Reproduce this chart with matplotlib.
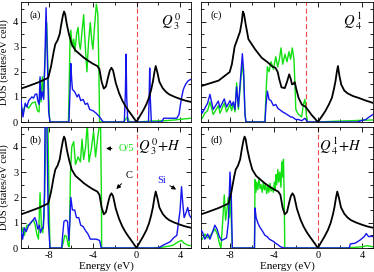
import matplotlib
matplotlib.use("Agg")
import matplotlib.pyplot as plt
from matplotlib.ticker import MultipleLocator, FixedLocator

plt.rcParams['font.family'] = ['Liberation Serif', 'DejaVu Serif']
plt.rcParams['mathtext.fontset'] = 'stix'

# ---------------- data ----------------
# total (C) DOS, panels a, b, d
e_black = [-10.6, -10, -9, -8.1, -7.85, -7.6, -7.45, -7.25, -7.05, -6.9, -6.75, -6.65, -6.55, -6.4, -6.2,
           -5.95, -5.6, -5.2, -4.8, -4.4, -4.0, -3.6, -3.4, -3.2, -3.0, -2.8, -2.6, -2.45, -2.3, -2.15,
           -1.9, -1.6, -1.3, -1.0, -0.7, -0.35, 0, 0.3, 0.6, 0.9, 1.15, 1.35, 1.5, 1.65, 1.76, 1.9, 2.1,
           2.4, 2.7, 3.0, 3.5, 4.0, 4.5, 5.0]
dos_black = [1.33, 1.42, 1.58, 1.76, 2.2, 2.8, 3.1, 3.25, 3.5, 3.9, 4.25, 4.4, 4.3, 3.9, 3.5,
             3.1, 2.85, 2.7, 2.55, 2.43, 2.32, 2.23, 2.1, 1.6, 1.33, 1.42, 1.8, 2.05, 2.16, 2.05,
             1.55, 1.15, 0.85, 0.62, 0.43, 0.22, 0.0, 0.23, 0.45, 0.7, 0.98, 1.3, 1.6, 2.0, 2.23, 2.0, 1.6,
             1.35, 1.2, 1.1, 1.0, 0.92, 0.85, 0.8]
# total DOS, panel c
e_black_c = [-10.6, -9.0, -8.0, -7.8, -7.55, -7.36, -7.06, -6.9, -6.8, -6.7, -6.55, -6.3, -6.0, -5.7,
             -5.1, -4.5, -4.1, -3.85, -3.65, -3.5, -3.3, -3.0, -2.8, -2.6, -2.45, -2.35, -2.22, -2.1,
             -1.95, -1.75, -1.45, -1.1, -0.6, 0, 0.35, 0.67, 1.0, 1.27, 1.45, 1.6, 1.72, 1.82, 1.95,
             2.12, 2.4, 2.7, 3.2, 3.7, 4.3, 5.0]
dos_black_c = [1.43, 1.65, 1.99, 2.3, 3.0, 3.23, 3.6, 4.0, 4.4, 4.3, 3.9, 3.3, 3.1, 2.9,
               2.56, 2.36, 2.2, 2.16, 2.0, 1.7, 1.38, 1.35, 1.6, 1.9, 1.7, 1.5, 1.52, 1.59,
               1.3, 0.96, 0.69, 0.6, 0.3, 0.0, 0.22, 0.43, 0.7, 0.96, 1.3, 1.63, 2.0, 2.23, 1.85,
               1.49, 1.25, 1.14, 1.03, 0.96, 0.86, 0.76]

# O/5 (green) and Si (blue) projected DOS
e_green_a = [-10.6, -10.42, -10.21, -9.9, -9.6, -9.3, -9.09, -8.94, -8.85, -8.76, -8.64, -8.52, -8.39, -8.24,
             -8.12, -8.0, -7.94,
             -6.25, -6.1, -6.03, -5.9, -5.76, -5.65, -5.5, -5.36, -5.25, -5.15, -5.0, -4.85, -4.7, -4.55,
             -4.4, -4.24, -4.1, -4.0, -3.85, -3.69, -3.55, -3.45, -3.39,
             -1.2, -1.0, -0.85, -0.7, -0.6,
             0.0, 0.8, 1.5, 2.6, 3.5, 4.3, 5.0]
dos_green_a = [0.6, 0.35, 0.7, 0.55, 0.75, 0.8, 0.45, 0.4, 1.7, 0.8, 1.8, 1.0, 2.5, 3.95,
               2.0, 0.3, 0.0,
               0.0, 3.2, 3.66, 3.0, 3.3, 2.8, 3.5, 3.77, 3.1, 2.9, 3.6, 4.27, 3.0, 2.0,
               3.2, 3.96, 3.2, 2.9, 3.8, 4.69, 4.3, 2.0, 0.0,
               0.0, 0.1, 0.2, 0.05, 0.0,
               0.0, 0.02, 0.04, 0.05, 0.08, 0.12, 0.15]
e_blue_a = [-10.6, -10.42, -10.21, -10.06, -9.9, -9.6, -9.45, -9.3, -9.15, -9.06, -8.94, -8.85, -8.76, -8.64,
            -8.52, -8.39, -8.3, -8.18, -8.06, -7.94,
            -6.2, -6.08, -6.03, -5.95, -5.88, -5.67, -5.45, -5.3, -5.12, -4.9, -4.7, -4.5, -4.3, -4.0,
            -3.7, -3.39, -3.15, -3.0,
            -1.12, -1.02, -0.96, -0.9, -0.8,
            1.1, 1.17, 1.21, 1.26, 1.36,
            2.3, 2.5, 3.0, 3.7, 3.9, 4.0, 4.15, 4.3, 4.5, 4.76, 5.0]
dos_blue_a = [0.85, 0.2, 0.75, 0.6, 0.85, 1.0, 0.95, 1.1, 1.12, 0.85, 0.7, 1.8, 0.9, 1.2,
              0.9, 2.8, 4.55, 2.5, 0.4, 0.0,
              0.0, 1.5, 2.33, 1.7, 1.3, 1.2, 1.0, 1.1, 0.85, 0.9, 0.7, 0.75, 0.5, 0.45,
              0.35, 0.2, 0.05, 0.0,
              0.0, 1.2, 2.7, 1.0, 0.0,
              0.0, 1.2, 2.15, 1.0, 0.0,
              0.0, 0.15, 0.15, 0.15, 0.3, 0.6, 1.0, 1.3, 1.5, 1.65, 1.7]

e_green_b = [-10.6, -10.42, -10.3, -10.06, -9.82, -9.6, -9.45, -9.3, -9.15, -9.0, -8.85, -8.73, -8.6, -8.48,
             -8.36, -8.3, -8.15, -8.03, -7.94,
             -6.85, -6.73, -6.58, -6.42, -6.27, -6.18, -6.06, -5.94, -5.76, -5.6, -5.36, -5.15, -5.0,
             -4.85, -4.67, -4.52, -4.36, -4.15, -3.94, -3.76, -3.55, -3.39, -3.3, -3.22, -3.2,
             1.5, 2.4, 3.3, 3.85, 4.13, 4.33, 4.76, 5.0]
dos_green_b = [0.45, 0.8, 0.5, 0.9, 0.9, 1.05, 1.1, 0.9, 0.55, 0.35, 2.18, 0.9, 0.6, 1.3,
               3.5, 5.5, 5.5, 2.0, 0.0,
               0.0, 0.2, 0.5, 0.45, 0.1, 0.05, 3.0, 4.0, 4.2, 3.3, 3.6, 3.4, 4.3,
               3.5, 4.0, 4.9, 3.4, 3.9, 4.6, 3.6, 4.4, 4.9, 4.9, 2.0, 0.0,
               0.0, 0.03, 0.1, 0.25, 0.3, 0.2, 0.1, 0.1]
e_blue_b = [-10.6, -10.45, -10.3, -10.12, -9.9, -9.7, -9.5, -9.33, -9.2, -9.06, -8.91, -8.82, -8.7, -8.55,
            -8.45, -8.39, -8.24, -8.15, -8.09, -7.94,
            -6.87, -6.78, -6.66, -6.48, -6.33, -6.21, -6.12, -6.03, -5.88, -5.67, -5.51, -5.3, -5.12,
            -4.9, -4.7, -4.45, -4.24, -4.0, -3.7, -3.39, -3.24,
            2.0, 2.4, 3.1, 3.4, 3.7, 3.85, 4.0, 4.13, 4.24, 4.37, 4.55, 4.7, 4.85, 5.0]
dos_blue_b = [0.7, 0.35, 0.8, 0.65, 0.9, 1.0, 1.1, 1.2, 1.05, 0.75, 0.9, 0.6, 0.75, 0.8,
              2.0, 5.5, 5.5, 2.5, 1.0, 0.0,
              0.0, 0.5, 1.05, 1.1, 1.05, 0.3, 1.0, 2.0, 1.5, 1.5, 1.2, 1.2, 0.9,
              0.85, 0.7, 0.55, 0.35, 0.35, 0.35, 0.3, 0.0,
              0.0, 0.1, 0.25, 0.4, 0.5, 1.0, 1.5, 2.42, 1.8, 1.2, 1.4, 1.6, 1.3, 1.2]

e_green_c = [-10.6, -10.49, -10.25, -10.0, -9.79, -9.49, -9.03, -8.88, -8.49, -8.28, -7.97, -7.82, -7.67,
             -7.52, -7.37, -7.21, -6.97, -6.85, -6.73, -6.61, -6.52,
             -4.8, -4.7, -4.58, -4.43, -4.25, -4.03, -3.82, -3.64, -3.49, -3.34, -3.19, -2.98, -2.8,
             -2.62, -2.47, -2.32, -2.17, -2.08, -2.0, -1.77, -1.47, -1.32, -1.17, -1.05, -0.93,
             0.0, 1.5, 3.0, 4.0, 5.0]
dos_green_c = [0.1, 0.15, 0.35, 0.45, 0.8, 0.3, 0.65, 0.35, 0.75, 0.4, 0.7, 0.45, 0.75,
               0.4, 1.56, 0.5, 1.8, 2.3, 1.8, 0.3, 0.0,
               0.0, 1.2, 2.2, 2.0, 2.4, 2.1, 2.6, 2.2, 2.5, 2.95, 2.3, 2.7, 2.4,
               2.8, 2.5, 2.95, 2.5, 1.5, 0.5, 0.3, 0.2, 0.7, 0.9, 0.3, 0.0,
               0.0, 0.03, 0.05, 0.07, 0.08]
e_blue_c = [-10.6, -10.49, -10.25, -10.0, -9.79, -9.49, -9.03, -8.88, -8.49, -8.28, -7.97, -7.82, -7.67,
            -7.52, -7.37, -7.21, -6.97, -6.85, -6.73, -6.61, -6.52,
            -4.8, -4.7, -4.58, -4.43, -4.25, -4.03, -3.82, -3.64, -3.49, -3.34, -3.19, -2.98, -2.8,
            -2.62, -2.47, -2.32, -2.17, -2.0, -1.77, -1.47, -1.17, -0.93,
            3.6, 3.9, 4.35, 4.65, 5.0]
dos_blue_c = [0.5, 0.35, 0.55, 0.75, 1.1, 0.5, 0.83, 0.56, 0.92, 0.6, 0.85, 0.65, 0.8,
              0.5, 1.4, 0.6, 2.0, 2.72, 2.0, 0.3, 0.0,
              0.0, 0.7, 1.23, 0.9, 0.85, 0.65, 0.7, 0.55, 0.5, 0.45, 0.4, 0.35, 0.3,
              0.25, 0.2, 0.2, 0.15, 0.1, 0.1, 0.05, 0.15, 0.0,
              0.0, 0.05, 0.1, 0.2, 0.3]

e_green_d = [-10.6, -10.49, -10.25, -10.0, -9.64, -9.34, -9.12, -8.94, -8.79, -8.64, -8.49, -8.37, -8.25,
             -8.12, -8.03, -7.94, -7.85, -7.76,
             -5.75, -5.7, -5.62, -5.55, -5.45, -5.35, -5.24, -5.15, -5.05, -4.94, -4.85, -4.75, -4.64,
             -4.55, -4.45, -4.34, -4.25, -4.15, -4.03, -3.95, -3.88, -3.8, -3.73, -3.63, -3.55, -3.45,
             -3.35, -3.27, -3.2, -3.12, -3.06, -3.0,
             2.5, 3.5, 4.0, 4.45, 5.0]
dos_green_d = [0.3, 0.35, 0.55, 0.4, 0.55, 0.75, 0.55, 0.2, 0.0, 1.0, 2.1, 1.1, 1.5,
               2.0, 1.2, 2.3, 1.0, 0.0,
               0.0, 2.7, 2.2, 2.6, 2.3, 2.75, 2.35, 2.5, 2.2, 2.6, 2.3, 2.5, 2.15,
               2.45, 2.2, 2.55, 2.25, 2.4, 2.2, 2.6, 2.3, 2.9, 2.5, 3.1, 2.6, 3.0,
               2.4, 3.4, 2.8, 3.5, 2.2, 0.0,
               0.0, 0.03, 0.05, 0.09, 0.05]
e_blue_d = [-10.6, -10.49, -10.37, -10.25, -10.0, -9.79, -9.58, -9.34, -9.15, -8.94, -8.73, -8.49, -8.28,
            -8.12, -7.97, -7.85, -7.76,
            -5.75, -5.7, -5.6, -5.45, -5.3, -5.15, -5.0, -4.8, -4.6, -4.4, -4.2, -4.0, -3.8, -3.6,
            -3.4, -3.2, -3.0,
            2.85, 2.94, 3.39, 3.85, 4.2, 4.39, 4.6, 4.9, 5.0]
dos_blue_d = [0.7, 0.65, 0.5, 0.35, 0.55, 0.35, 0.6, 0.9, 0.75, 0.45, 0.3, 0.35, 0.4,
              1.0, 3.0, 2.0, 0.0,
              0.0, 1.58, 1.2, 1.0, 0.85, 0.75, 0.65, 0.5, 0.45, 0.35, 0.3, 0.25, 0.18, 0.12,
              0.05, 0.02, 0.0,
              0.0, 0.16, 0.19, 0.32, 0.45, 0.57, 0.45, 0.46, 0.45]

fermi_levels = [0.0, 0.0, -1.1, 0.0]           # a, b, c, d
panel_letters = ['(a)', '(b)', '(c)', '(d)']
panel_titles = [r'$Q^{\,\mathit{0}}_{\;\mathit{3}}$', r'$Q^{\,\mathit{0}}_{\;\mathit{3}}\!+\!H$',
                r'$Q^{\,\mathit{1}}_{\;\mathit{4}}$', r'$Q^{\,\mathit{1}}_{\;\mathit{4}}\!+\!H$']
x_ticks = [-8, -4, 0, 4]
x_ticklabels = ['-8', '-4', '0', '4']
y_ticks = [0, 1, 2, 3, 4]
y_ticklabels = ['0', '1', '2', '3', '4']

GREEN = '#11e011'
BLUE = '#1515ee'
RED = '#f04848'

W, H = 374, 272
fig = plt.figure(figsize=(W / 100, H / 100), dpi=100)

def rect(x0, x1, ytop, ybot):
    return [x0 / W, 1 - ybot / H, (x1 - x0) / W, (ybot - ytop) / H]

axes = {
    'a': fig.add_axes(rect(21, 191, 2, 122)),
    'b': fig.add_axes(rect(21, 191, 127, 248)),
    'c': fig.add_axes(rect(201, 373, 2, 122)),
    'd': fig.add_axes(rect(201, 373, 127, 248)),
}

panels = [
    ('a', e_black, dos_black, e_green_a, dos_green_a, e_blue_a, dos_blue_a),
    ('b', e_black, dos_black, e_green_b, dos_green_b, e_blue_b, dos_blue_b),
    ('c', e_black_c, dos_black_c, e_green_c, dos_green_c, e_blue_c, dos_blue_c),
    ('d', e_black, dos_black, e_green_d, dos_green_d, e_blue_d, dos_blue_d),
]

for i, (key, ek, dk, eg, dg, eb, db) in enumerate(panels):
    ax = axes[key]
    ax.plot(eg, dg, color=GREEN, lw=1.0, zorder=2)
    ax.plot(eb, db, color=BLUE, lw=1.0, zorder=3)
    ax.plot(ek, dk, color='black', lw=1.3, zorder=4)
    ln = ax.axvline(fermi_levels[i], color=RED, lw=0.8, zorder=1)
    ln.set_dashes([4.5, 2.5])
    ax.set_xlim(-10.6, 5.0)
    ax.set_ylim(0, 4.78)
    ax.xaxis.set_major_locator(FixedLocator(x_ticks))
    ax.xaxis.set_minor_locator(MultipleLocator(2))
    ax.yaxis.set_major_locator(FixedLocator(y_ticks))
    ax.yaxis.set_minor_locator(MultipleLocator(0.5))
    ax.tick_params(which='both', direction='in', top=True, right=True, labelsize=7.5, pad=2)
    ax.tick_params(which='major', length=3.5, width=0.6)
    ax.tick_params(which='minor', length=2.5, width=0.6)
    for s in ax.spines.values():
        s.set_linewidth(0.6)
    if key in ('b', 'd'):
        ax.set_xticklabels(x_ticklabels)
        ax.set_xlabel('Energy (eV)', fontsize=8, labelpad=1)
    else:
        ax.set_xticklabels([])
    if key in ('a', 'b'):
        ax.set_yticklabels(y_ticklabels)
        ax.set_ylabel('DOS (states/eV cell)', fontsize=7.5, labelpad=2)
        ax.yaxis.set_label_coords(-0.07, 0.5)
    else:
        ax.set_yticklabels([])
    ax.text(0.05 if key in ('a', 'b') else 0.055, 0.89, panel_letters[i], transform=ax.transAxes,
            fontsize=7.5, ha='left', va='center')
    ax.text(0.94, 0.84, panel_titles[i], transform=ax.transAxes, fontsize=10.5,
            ha='right', va='center')

axb = axes['b']
axb.annotate('', xy=(-3.05, 3.93), xytext=(-2.0, 3.93),
             arrowprops=dict(arrowstyle='-|>', color='black', lw=0.7, mutation_scale=6))
axb.text(-1.65, 3.93, 'O/5', color=GREEN, fontsize=7.5, ha='left', va='center')
axb.annotate('', xy=(-2.03, 2.25), xytext=(-1.2, 2.62),
             arrowprops=dict(arrowstyle='-|>', color='black', lw=0.7, mutation_scale=6))
axb.text(-0.64, 2.86, 'C', color='black', fontsize=7.5, ha='center', va='center')
axb.annotate('', xy=(3.85, 2.25), xytext=(2.85, 2.52),
             arrowprops=dict(arrowstyle='-|>', color='black', lw=0.7, mutation_scale=6))
axb.text(2.34, 2.68, 'Si', color=BLUE, fontsize=7.5, ha='center', va='center')

fig.savefig('out.png', dpi=100)
